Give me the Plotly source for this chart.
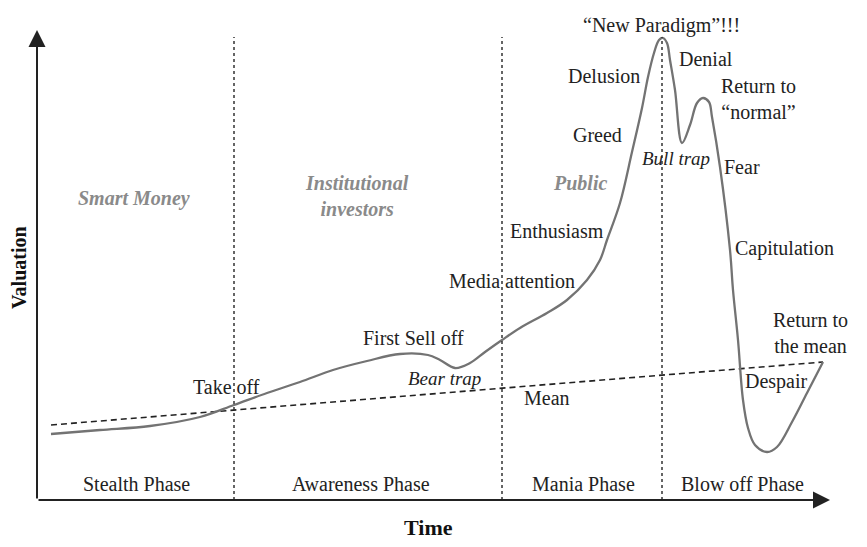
import plotly.graph_objects as go

# bubble curve, time vs valuation (arbitrary units, origin at the axes corner)
time = [14, 63, 113, 163, 197, 230, 263, 296, 330, 363, 391, 403, 418, 433, 448, 465,
        483, 510, 530, 550, 563, 570, 583, 595, 605, 611, 617, 622, 626, 630, 633, 638,
        645, 653, 660, 666, 672, 675, 683, 693, 696, 701, 706, 711, 718, 730, 740, 755,
        770, 786]
valuation = [66, 70, 74, 83, 95, 107, 118, 130, 139, 146, 145, 140, 132, 137, 148, 160,
             172, 187, 200, 220, 240, 260, 297, 348, 392, 423, 447, 460, 462, 457, 440, 410,
             357, 375, 397, 402, 398, 383, 333, 250, 210, 160, 100, 72, 55, 48, 53, 78,
             107, 138]

mean_t = [14, 786]
mean_v = [75, 138]

phase_bounds = [197, 465, 625]
axis_top = 470
axis_right = 793

phase_names = ["Stealth Phase", "Awareness Phase", "Mania Phase", "Blow off Phase"]
phase_t = [99, 324, 546, 705]

crowd_names = ["Smart Money", "Institutional<br>investors", "Public"]
crowd_t = [97, 320, 543]
crowd_v = [302, 304, 317]

mood_names = ["Take off", "First Sell off", "Media attention", "Mean", "Enthusiasm",
              "Greed", "Delusion", "“New Paradigm”!!!", "Denial", "Return to<br>“normal”",
              "Fear", "Capitulation", "Return to<br>the mean", "Despair"]
mood_t = [189, 376, 475, 510, 520, 560, 567, 624, 669, 721, 705, 747, 773, 739]
mood_v = [113, 162, 219, 102, 269, 365, 424, 475, 441, 401, 333, 252, 167, 119]

trap_names = ["Bear trap", "Bull trap"]
trap_t = [407, 639]
trap_v = [122, 342]

SERIF = "Liberation Serif"

fig = go.Figure()
fig.add_trace(go.Scatter(x=mean_t, y=mean_v, mode="lines",
                         line=dict(color="#222", width=1.6, dash="6px,4px"),
                         hoverinfo="skip"))
fig.add_trace(go.Scatter(x=time, y=valuation, mode="lines", line_shape="spline",
                         line=dict(color="#737373", width=2.3), hoverinfo="skip"))

for b in phase_bounds:
    fig.add_shape(type="line", x0=b, x1=b, y0=0, y1=axis_top - 7,
                  line=dict(color="#333", width=1.5, dash="dot"))

# axes with arrow heads
fig.add_annotation(x=0, y=axis_top, ax=0, ay=0, xref="x", yref="y", axref="x", ayref="y",
                   showarrow=True, arrowhead=2, arrowsize=1.7, arrowwidth=2, arrowcolor="#222",
                   text="")
fig.add_annotation(x=axis_right, y=0, ax=0, ay=0, xref="x", yref="y", axref="x", ayref="y",
                   showarrow=True, arrowhead=2, arrowsize=1.7, arrowwidth=2, arrowcolor="#222",
                   text="")

for name, t in zip(phase_names, phase_t):
    fig.add_annotation(x=t, y=16, text=name, showarrow=False,
                       font=dict(family=SERIF, size=20, color="#222"))

for name, t, v in zip(crowd_names, crowd_t, crowd_v):
    fig.add_annotation(x=t, y=v, text="<b><i>" + name + "</i></b>", showarrow=False,
                       font=dict(family=SERIF, size=20, color="#8a8a8a"))

for name, t, v in zip(mood_names, mood_t, mood_v):
    fig.add_annotation(x=t, y=v, text=name, showarrow=False,
                       font=dict(family=SERIF, size=20, color="#222"))

for name, t, v in zip(trap_names, trap_t, trap_v):
    fig.add_annotation(x=t, y=v, text="<i>" + name + "</i>", showarrow=False,
                       font=dict(family=SERIF, size=19, color="#222"))

fig.add_annotation(x=-18, y=232, text="<b>Valuation</b>", textangle=-90, showarrow=False,
                   borderpad=0, font=dict(family=SERIF, size=20, color="#111"))
fig.add_annotation(x=391, y=-27, text="<b>Time</b>", showarrow=False,
                   font=dict(family=SERIF, size=22, color="#111"))

# the page body adds an 8px margin, so the ranges are shifted to compensate
fig.update_layout(
    width=867, height=547,
    margin=dict(l=0, r=0, t=0, b=0),
    paper_bgcolor="white", plot_bgcolor="white",
    showlegend=False,
    xaxis=dict(range=[-29, 838], visible=False),
    yaxis=dict(range=[-55, 492], visible=False),
)

fig.write_html("out.html")
